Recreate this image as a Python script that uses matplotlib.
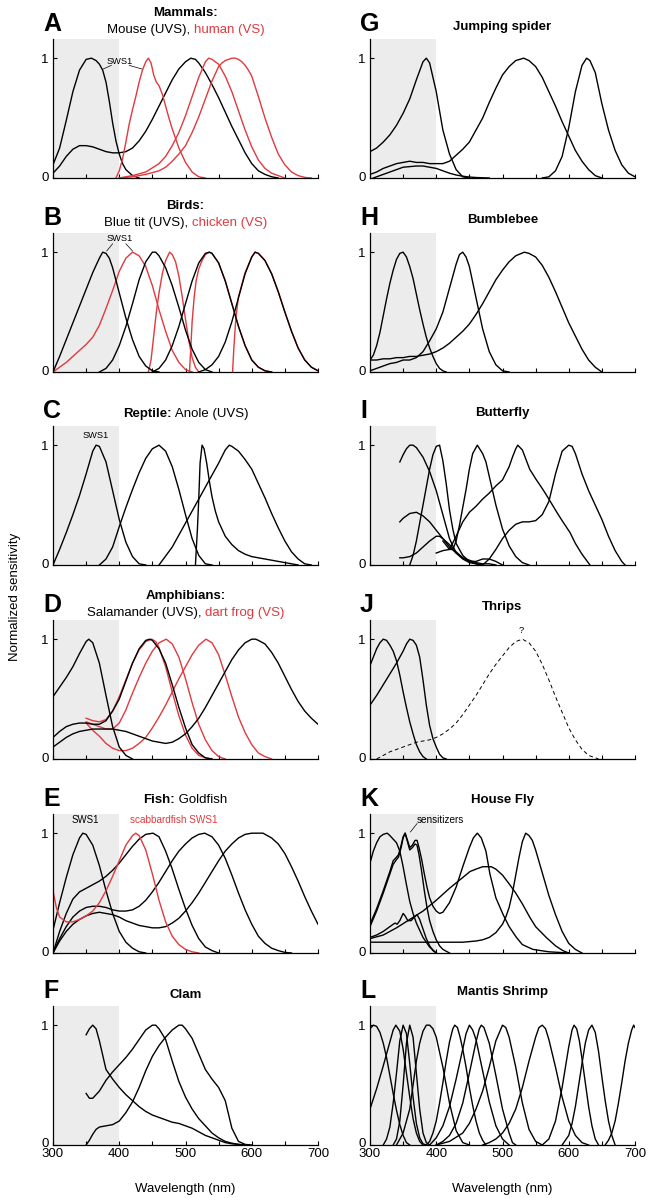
import numpy as np
import matplotlib.pyplot as plt
from matplotlib.transforms import ScaledTranslation

plt.rcParams['font.family'] = ['Liberation Sans', 'DejaVu Sans']

RED = '#e0393e'
GREY = '#ececec'

# ---------------- A: mouse (black) / human (red)
mouse_uv = [(300,.11),(310,.25),(320,.48),(330,.72),(340,.9),(350,.99),(358,1.0),(365,.98),(370,.95),(375,.9),
            (380,.8),(385,.64),(390,.46),(395,.31),(400,.2),(405,.12),(410,.07),(420,.02),(430,0)]
mouse_m = [(300,.04),(310,.1),(320,.18),(330,.24),(340,.27),(350,.27),(360,.26),(370,.24),(380,.22),(390,.21),
           (400,.21),(410,.22),(420,.25),(430,.31),(440,.39),(450,.49),(460,.6),(470,.71),(480,.82),(490,.91),
           (500,.97),(508,1.0),(515,.99),(520,.96),(530,.88),(540,.78),(550,.67),(560,.55),(570,.43),(580,.32),
           (590,.21),(600,.12),(610,.06),(620,.03),(630,.01),(640,0)]
human_s = [(395,0),(400,.06),(405,.16),(410,.3),(415,.45),(420,.57),(425,.68),(430,.8),(435,.9),(440,.97),
           (444,1.0),(448,.96),(452,.86),(456,.8),(460,.77),(465,.7),(470,.6),(475,.5),(480,.41),(490,.25),
           (500,.13),(510,.05),(520,.01),(530,0)]
human_m = [(400,0),(420,.02),(440,.05),(460,.12),(470,.18),(480,.27),(490,.38),(500,.52),(510,.68),(520,.84),
           (530,.97),(535,1.0),(540,.99),(550,.95),(560,.85),(570,.72),(580,.56),(590,.4),(600,.26),(610,.15),
           (620,.08),(630,.04),(640,.02),(650,0)]
human_l = [(400,0),(420,.01),(440,.03),(460,.06),(470,.09),(480,.14),(490,.2),(500,.27),(510,.38),(520,.51),
           (530,.66),(540,.81),(550,.93),(555,.96),(560,.98),(565,.99),(570,1.0),(575,1.0),(580,.99),(585,.97),
           (590,.94),(595,.9),(600,.85),(610,.68),(620,.5),(630,.34),(640,.2),(650,.11),(660,.05),(670,.02),
           (680,.005),(690,0)]

# ---------------- B: blue tit (black) / chicken (red)
tit_uv = [(300,0),(310,.13),(320,.27),(330,.41),(340,.55),(350,.69),(360,.83),(370,.95),(375,1.0),(380,.99),
          (385,.95),(390,.87),(400,.66),(410,.45),(420,.27),(430,.13),(440,.05),(450,.01),(460,0)]
chicken_vs = [(300,0),(310,.04),(320,.08),(330,.13),(340,.18),(350,.23),(360,.29),(370,.39),(380,.53),(390,.68),
              (400,.84),(410,.95),(420,1.0),(430,.97),(440,.88),(450,.72),(460,.52),(470,.34),(480,.18),
              (490,.08),(500,.02),(510,0)]
tit_sws2 = [(370,0),(380,.03),(390,.1),(400,.22),(410,.38),(420,.57),(430,.77),(440,.92),(450,1.0),(455,1.0),
            (460,.97),(470,.87),(480,.72),(490,.54),(500,.35),(510,.19),(520,.08),(530,.02),(540,0)]
chicken_sws2 = [(444,0),(448,.1),(452,.3),(456,.5),(460,.66),(465,.82),(470,.93),(476,1.0),(480,.98),(485,.92),
                (490,.8),(495,.63),(500,.44),(505,.26),(510,.12),(515,.04),(520,0)]
tit_mws = [(450,0),(460,.03),(470,.1),(480,.22),(490,.38),(500,.57),(510,.76),(520,.91),(530,.99),(536,1.0),
           (540,.99),(550,.91),(560,.76),(570,.57),(580,.38),(590,.22),(600,.1),(610,.04),(620,.01),(630,0)]
chicken_mws = [(506,0),(508,.2),(510,.42),(513,.62),(516,.76),(520,.86),(525,.93),(530,.98),(536,1.0),(540,.99),
               (550,.91),(560,.76),(570,.57),(580,.38),(590,.22),(600,.1),(610,.04),(620,.01),(630,0)]
tit_lws = [(520,0),(530,.02),(540,.06),(550,.13),(560,.25),(570,.42),(580,.62),(590,.82),(600,.96),(605,1.0),
           (610,.99),(620,.93),(630,.82),(640,.67),(650,.5),(660,.34),(670,.2),(680,.1),(690,.04),(700,.01)]
chicken_lws = [(571,0),(573,.2),(576,.45),(580,.63),(590,.83),(600,.96),(605,1.0),(610,.99),(620,.93),(630,.82),
               (640,.67),(650,.5),(660,.34),(670,.2),(680,.1),(690,.04),(700,.01)]

# ---------------- C: anole
anole_uv = [(300,0),(310,.13),(320,.27),(330,.42),(340,.58),(350,.76),(360,.95),(365,1.0),(370,.99),(380,.86),
            (390,.62),(400,.38),(410,.19),(420,.07),(430,.01),(440,0)]
anole_sws = [(370,0),(380,.05),(385,.1),(390,.15),(400,.32),(410,.48),(420,.63),(430,.77),(440,.89),(450,.97),
             (460,1.0),(470,.95),(480,.82),(490,.63),(500,.42),(510,.22),(520,.08),(530,.01),(540,0)]
anole_mws = [(515,0),(518,.3),(520,.55),(522,.85),(525,1.0),(528,.97),(532,.85),(536,.7),(540,.57),(545,.45),
             (550,.36),(560,.24),(570,.17),(580,.12),(590,.09),(600,.07),(620,.05),(640,.03),(660,.01),(670,0)]
anole_lws = [(460,0),(480,.15),(500,.35),(520,.55),(540,.75),(550,.85),(560,.96),(566,1.0),(570,.99),(580,.95),
             (590,.88),(600,.8),(610,.68),(620,.56),(630,.43),(640,.31),(650,.2),(660,.11),(670,.05),(680,.01),(690,0)]

# ---------------- D: salamander (black) / dart frog (red)
sal_uv = [(300,.52),(310,.6),(320,.68),(330,.77),(340,.88),(350,.98),(354,1.0),(360,.97),(370,.8),(380,.53),
          (390,.27),(400,.1),(410,.03),(420,0)]
sal_s = [(300,.18),(310,.23),(320,.27),(330,.29),(340,.3),(350,.3),(360,.29),(370,.29),(380,.32),(390,.4),
         (400,.5),(410,.65),(420,.8),(430,.92),(440,.99),(446,1.0),(450,.99),(460,.92),(470,.8),(480,.62),
         (490,.43),(500,.26),(510,.12),(520,.05),(530,.01),(540,0)]
sal_l = [(300,.1),(310,.14),(320,.18),(330,.21),(340,.23),(350,.24),(360,.25),(370,.25),(380,.25),(390,.25),
         (400,.24),(410,.23),(420,.21),(430,.19),(440,.17),(450,.15),(460,.14),(470,.13),(480,.14),(490,.17),
         (500,.21),(510,.27),(520,.34),(530,.43),(540,.53),(550,.63),(560,.73),(570,.83),(580,.91),(590,.97),
         (600,1.0),(606,1.0),(610,.99),(620,.96),(630,.89),(640,.8),(650,.69),(660,.58),(670,.48),(680,.4),
         (690,.34),(700,.29)]
frog_s = [(350,.34),(360,.32),(370,.31),(380,.33),(390,.4),(400,.52),(410,.66),(420,.8),(430,.91),(440,.98),
          (449,1.0),(455,.98),(460,.93),(470,.77),(480,.56),(490,.36),(500,.2),(510,.09),(520,.03),(530,.01),(540,0)]
frog_m = [(350,.31),(360,.29),(370,.27),(380,.25),(390,.25),(400,.3),(410,.41),(420,.55),(430,.68),(440,.8),
          (450,.9),(460,.97),(471,1.0),(480,.96),(490,.85),(500,.67),(510,.47),(520,.29),(530,.16),(540,.07),
          (550,.02),(560,0)]
frog_l = [(350,.3),(360,.24),(370,.19),(380,.13),(390,.09),(400,.07),(410,.07),(420,.09),(430,.13),(440,.18),
          (450,.26),(460,.35),(470,.45),(480,.56),(490,.67),(500,.77),(510,.87),(520,.95),(531,1.0),(540,.97),
          (550,.87),(560,.7),(570,.52),(580,.35),(590,.22),(600,.12),(610,.05),(620,.02),(630,0)]

# ---------------- E: goldfish (black) / scabbardfish SWS1 (red)
gold_uv = [(300,.19),(310,.42),(320,.63),(330,.82),(340,.96),(345,1.0),(350,.99),(360,.9),(370,.73),(380,.52),
           (390,.33),(400,.18),(410,.09),(420,.04),(430,.01),(440,0)]
gold_s = [(300,0),(310,.18),(320,.33),(330,.45),(340,.51),(350,.54),(360,.57),(370,.6),(380,.64),(390,.69),
          (400,.75),(410,.82),(420,.89),(430,.95),(440,.99),(451,1.0),(460,.97),(470,.85),(480,.7),(490,.53),
          (500,.37),(510,.23),(520,.12),(530,.05),(540,.02),(550,0)]
gold_m = [(300,0),(310,.12),(320,.22),(330,.3),(340,.35),(350,.38),(360,.39),(370,.39),(380,.38),(390,.36),
          (400,.35),(410,.35),(420,.36),(430,.39),(440,.44),(450,.51),(460,.59),(470,.68),(480,.77),(490,.85),
          (500,.91),(510,.96),(520,.99),(529,1.0),(540,.97),(550,.9),(560,.79),(570,.65),(580,.5),(590,.36),
          (600,.24),(610,.14),(620,.08),(630,.04),(640,.02),(650,.005),(660,0)]
gold_l = [(300,0),(310,.1),(320,.18),(330,.24),(340,.28),(350,.31),(360,.33),(370,.34),(380,.33),(390,.32),
          (400,.3),(410,.27),(420,.25),(430,.23),(440,.22),(450,.21),(460,.21),(470,.22),(480,.25),(490,.29),
          (500,.35),(510,.42),(520,.5),(530,.59),(540,.68),(550,.77),(560,.85),(570,.91),(580,.96),(590,.99),
          (600,1.0),(617,1.0),(630,.96),(640,.91),(650,.83),(660,.72),(670,.6),(680,.47),(690,.35),(700,.24)]
scabbard = [(300,.52),(305,.38),(310,.3),(320,.26),(330,.26),(340,.28),(350,.31),(360,.35),(370,.42),(380,.52),
            (390,.64),(400,.77),(410,.9),(420,.98),(425,1.0),(430,.98),(440,.86),(450,.66),(460,.44),(470,.26),
            (480,.14),(490,.07),(500,.03),(510,.01),(520,0)]

# ---------------- F: clam
clam_uv = [(350,.92),(355,.97),(360,1.0),(365,.97),(370,.87),(380,.63),(390,.55),(400,.48),(410,.42),(420,.37),
           (430,.32),(440,.28),(450,.25),(460,.23),(470,.21),(480,.19),(490,.18),(500,.16),(510,.14),(520,.11),
           (530,.08),(540,.06),(550,.04),(560,.02),(570,.01),(580,.005),(590,0)]
clam_blue = [(350,.43),(355,.39),(360,.39),(370,.45),(380,.54),(390,.61),(400,.67),(410,.73),(420,.8),(430,.88),
             (440,.96),(450,1.0),(455,1.0),(460,.97),(470,.88),(480,.7),(490,.53),(500,.4),(510,.3),(520,.22),
             (530,.16),(540,.1),(550,.06),(560,.03),(570,.015),(580,.005),(590,0)]
clam_green = [(350,0),(355,.04),(360,.09),(365,.13),(370,.15),(380,.16),(390,.17),(400,.2),(410,.27),(420,.36),
              (430,.48),(440,.62),(450,.74),(460,.83),(470,.9),(480,.96),(490,1.0),(495,1.0),(500,.97),(510,.89),
              (520,.76),(530,.63),(540,.55),(550,.48),(560,.37),(570,.14),(580,.03),(590,.005),(600,0)]

# ---------------- G: jumping spider
spider_uv = [(300,.22),(310,.25),(320,.3),(330,.36),(340,.44),(350,.54),(360,.66),(370,.82),(380,.97),(385,1.0),
             (390,.96),(400,.72),(410,.4),(420,.2),(430,.07),(440,.01),(450,0)]
spider_g = [(300,.03),(310,.05),(320,.08),(330,.1),(340,.12),(350,.13),(360,.14),(370,.13),(380,.13),(390,.12),
            (400,.12),(410,.12),(420,.14),(430,.19),(440,.24),(450,.3),(460,.4),(470,.5),(480,.63),(490,.75),
            (500,.86),(510,.93),(520,.98),(532,1.0),(540,.98),(550,.93),(560,.84),(570,.72),(580,.6),(590,.47),
            (600,.35),(610,.23),(620,.14),(630,.07),(640,.02),(650,0)]
spider_low = [(305,0),(310,.01),(320,.03),(330,.05),(340,.07),(350,.09),(360,.095),(370,.1),(380,.1),(390,.09),
              (400,.08),(410,.06),(420,.04),(430,.025),(440,.015),(450,.008),(460,.004),(470,.002),(480,0)]
spider_red = [(560,0),(570,.01),(580,.06),(590,.18),(600,.42),(610,.72),(620,.94),(627,1.0),(632,.98),(640,.88),
              (650,.62),(660,.4),(670,.23),(680,.11),(690,.04),(700,.01)]

# ---------------- H: bumblebee
bee_uv = [(300,.1),(305,.14),(310,.22),(315,.33),(320,.47),(325,.61),(330,.74),(335,.85),(340,.94),(345,.99),
          (350,1.0),(355,.96),(360,.88),(365,.78),(370,.65),(375,.52),(380,.4),(385,.29),(390,.2),(395,.13),
          (400,.07),(405,.03),(410,.01),(415,0)]
bee_blue = [(300,.01),(310,.03),(320,.05),(330,.07),(340,.08),(350,.1),(360,.1),(370,.12),(380,.17),(390,.26),
            (400,.36),(410,.5),(420,.7),(430,.9),(435,.98),(440,1.0),(445,.96),(450,.88),(460,.62),(470,.36),
            (480,.17),(490,.06),(500,.01),(510,0)]
bee_green = [(300,.1),(310,.1),(320,.11),(330,.11),(340,.12),(350,.12),(360,.13),(370,.13),(380,.14),(390,.15),
             (400,.17),(410,.2),(420,.24),(430,.29),(440,.34),(450,.4),(460,.48),(470,.57),(480,.67),(490,.77),
             (500,.85),(510,.92),(520,.97),(533,1.0),(540,.99),(550,.96),(560,.89),(570,.79),(580,.67),(590,.54),
             (600,.41),(610,.3),(620,.19),(630,.1),(640,.04),(650,0)]

# ---------------- I: butterfly
bf_uv = [(345,.86),(350,.92),(355,.97),(360,1.0),(365,1.0),(370,.98),(380,.9),(390,.78),(400,.62),(410,.42),
         (420,.22),(430,.1),(440,.05),(450,.02),(460,.01),(470,0)]
bf_v = [(345,.36),(350,.39),(360,.43),(370,.44),(380,.41),(390,.36),(400,.29),(410,.22),(420,.15),(430,.1),
        (440,.06),(450,.04),(460,.02),(470,.01),(480,.01),(490,0)]
bf_low = [(345,.06),(350,.06),(360,.07),(370,.1),(380,.15),(390,.2),(400,.24),(405,.24),(410,.22),(420,.17),
          (430,.11),(440,.06),(450,.03),(460,.03),(470,.05),(480,.05),(490,.03),(500,0)]
bf_blue = [(360,0),(365,.08),(370,.2),(375,.35),(380,.5),(385,.65),(390,.8),(395,.92),(400,.99),(405,1.0),
           (410,.87),(415,.68),(420,.46),(425,.3),(430,.18),(440,.08),(450,.03),(460,.01),(470,0)]
bf_462 = [(410,.2),(420,.13),(425,.13),(430,.2),(435,.33),(440,.48),(445,.63),(450,.8),(455,.93),(462,1.0),
          (470,.93),(475,.86),(480,.74),(490,.5),(500,.3),(510,.16),(520,.07),(530,.02),(540,0)]
bf_green = [(400,.1),(410,.12),(420,.13),(430,.24),(440,.36),(450,.44),(460,.49),(470,.55),(480,.6),(490,.66),
            (500,.71),(510,.82),(515,.9),(520,.97),(523,1.0),(530,.96),(541,.8),(550,.72),(561,.63),(570,.55),
            (582,.44),(590,.37),(602,.27),(610,.18),(620,.09),(632,0)]
bf_red = [(470,0),(480,.05),(490,.13),(500,.22),(510,.29),(520,.34),(530,.36),(540,.36),(550,.37),(560,.42),
          (570,.53),(580,.76),(590,.95),(600,1.0),(605,.99),(610,.93),(620,.76),(630,.62),(640,.5),(650,.38),
          (660,.24),(670,.12),(680,.03),(685,0)]

# ---------------- J: thrips
thrips_uv1 = [(300,.78),(305,.85),(310,.92),(315,.97),(320,1.0),(325,.99),(330,.95),(335,.9),(340,.82),(345,.7),
              (350,.56),(355,.43),(360,.31),(365,.21),(370,.12),(375,.06),(380,.02),(385,0)]
thrips_uv2 = [(300,.45),(310,.53),(320,.62),(330,.71),(340,.8),(350,.9),(355,.96),(360,1.0),(365,.99),(370,.95),
              (375,.85),(380,.66),(385,.45),(390,.28),(395,.17),(400,.1),(405,.04),(410,.01),(415,0)]
thrips_green = [(310,0),(320,.03),(330,.06),(340,.08),(350,.1),(360,.12),(370,.14),(380,.15),(390,.16),(400,.18),
                (410,.21),(420,.25),(430,.3),(440,.37),(450,.45),(460,.53),(470,.62),(480,.71),(490,.79),(500,.86),
                (510,.93),(520,.98),(530,1.0),(540,.97),(550,.9),(560,.79),(570,.66),(580,.52),(590,.39),(600,.26),
                (610,.16),(620,.08),(630,.03),(640,.01),(645,0)]

# ---------------- K: house fly
fly_r7p = [(300,.75),(305,.85),(310,.92),(315,.97),(320,.99),(326,1.0),(330,.98),(335,.95),(340,.92),(345,.85),
           (350,.72),(355,.57),(360,.43),(365,.33),(370,.25),(375,.19),(380,.13),(390,.05),(400,0)]
fly_sens_a = [(300,.24),(310,.37),(320,.52),(330,.68),(335,.77),(340,.8),(343,.82),(347,.9),(350,.97),(353,1.0),
              (356,.95),(360,.88),(364,.9),(368,.94),(371,.94),(374,.88),(378,.78),(382,.66),(386,.55),(390,.46),
              (395,.39),(400,.35),(405,.33),(410,.34),(420,.42),(430,.55),(440,.72),(450,.88),(456,.96),(462,1.0),
              (468,.96),(475,.85),(481,.66),(490,.46),(501,.32),(510,.22),(521,.13),(530,.07),(546,.03),(570,.01),
              (600,0)]
fly_sens_b = [(300,.22),(310,.35),(320,.5),(330,.66),(335,.74),(340,.78),(343,.8),(347,.88),(350,.96),(353,1.0),
              (356,.94),(360,.86),(364,.88),(368,.91),(371,.9),(374,.82),(378,.68),(382,.52),(386,.38),(390,.27),
              (395,.18),(400,.11),(405,.06),(410,.03),(420,0)]
fly_low = [(300,.13),(310,.15),(320,.18),(330,.22),(335,.24),(338,.25),(341,.24),(345,.27),(350,.33),(353,.31),
           (357,.27),(362,.27),(367,.3),(371,.32),(375,.28),(380,.2),(385,.12),(390,.06),(395,.02),(400,0)]
fly_broad = [(300,.12),(320,.15),(340,.21),(360,.28),(380,.35),(400,.44),(420,.54),(440,.63),(451,.68),(460,.7),
             (470,.72),(483,.72),(490,.7),(500,.65),(511,.57),(520,.5),(530,.41),(541,.3),(550,.22),(566,.13),
             (580,.06),(591,.02),(600,0)]
fly_r8y = [(300,.09),(340,.09),(380,.09),(420,.09),(440,.09),(460,.1),(470,.11),(480,.13),(490,.17),(500,.24),
           (505,.3),(510,.38),(515,.5),(520,.65),(525,.8),(530,.93),(535,1.0),(540,.98),(545,.94),(550,.86),
           (560,.67),(570,.48),(580,.32),(590,.18),(600,.08),(610,.03),(620,0)]

# ---------------- L: mantis shrimp
ms_308 = [(300,.97),(305,1.0),(310,.99),(315,.94),(320,.85),(325,.73),(330,.58),(335,.43),(340,.29),(345,.17),
          (350,.08),(355,.02),(360,0)]
ms_339 = [(300,.3),(310,.47),(320,.66),(330,.86),(335,.96),(339,1.0),(345,.95),(350,.8),(355,.6),(360,.4),
          (365,.22),(370,.1),(375,.03),(380,0)]
ms_351 = [(320,0),(325,.05),(330,.15),(335,.35),(340,.6),(345,.87),(350,1.0),(355,.93),(360,.68),(365,.4),
          (370,.18),(375,.06),(380,.01),(385,0)]
ms_361 = [(335,0),(340,.05),(345,.2),(350,.5),(355,.85),(360,1.0),(365,.9),(370,.6),(375,.3),(380,.1),(385,.02),(390,0)]
ms_389 = [(340,0),(350,.1),(360,.3),(365,.5),(370,.7),(375,.85),(380,.95),(385,1.0),(390,1.0),(395,.97),(400,.9),
          (410,.65),(420,.35),(430,.12),(440,.02),(450,0)]
ms_428 = [(385,0),(390,.03),(395,.1),(400,.2),(405,.35),(410,.52),(415,.7),(420,.86),(425,.97),(428,1.0),(432,.98),
          (436,.9),(440,.8),(445,.65),(450,.48),(455,.33),(460,.2),(465,.1),(470,.04),(475,0)]
ms_450 = [(390,0),(400,.06),(410,.16),(420,.32),(430,.55),(440,.8),(445,.93),(450,1.0),(455,.96),(460,.88),(470,.62),
          (480,.36),(490,.16),(500,.05),(510,0)]
ms_468 = [(400,0),(410,.03),(420,.08),(430,.18),(440,.35),(450,.6),(460,.86),(465,.97),(468,1.0),(472,.98),(480,.85),
          (490,.58),(500,.3),(510,.1),(515,.02),(520,0)]
ms_500 = [(400,0),(420,.03),(440,.1),(450,.18),(460,.3),(470,.45),(480,.65),(490,.87),(500,1.0),(505,.98),(510,.9),
          (520,.65),(530,.35),(540,.13),(550,.03),(560,0)]
ms_559 = [(470,0),(480,.02),(490,.05),(500,.1),(510,.18),(520,.3),(530,.48),(540,.7),(550,.9),(555,.98),(560,1.0),
          (565,.97),(570,.88),(580,.65),(590,.4),(600,.2),(610,.08),(620,.02),(630,0)]
ms_607 = [(560,0),(570,.05),(580,.2),(590,.48),(600,.82),(605,.96),(608,1.0),(612,.97),(616,.87),(620,.72),(625,.52),
          (630,.32),(635,.16),(640,.05),(645,0)]
ms_635 = [(590,0),(600,.08),(605,.18),(610,.32),(615,.5),(620,.68),(625,.85),(630,.96),(635,1.0),(640,.94),(645,.78),
          (650,.57),(655,.37),(660,.2),(665,.08),(670,0)]
ms_698 = [(655,0),(660,.04),(665,.1),(670,.2),(675,.35),(680,.52),(685,.7),(690,.85),(695,.96),(698,1.0),(700,.98)]

K = 'k'
panels = [
    dict(letter='A', col=0, row=0, title=[[('Mammals:', K, 'bold')],
                                        [('Mouse (UVS), ', K, 'normal'), ('human (VS)', RED, 'normal')]],
         curves=[(mouse_uv, K), (mouse_m, K), (human_s, RED), (human_m, RED), (human_l, RED)]),
    dict(letter='B', col=0, row=1, title=[[('Birds:', K, 'bold')],
                                        [('Blue tit (UVS), ', K, 'normal'), ('chicken (VS)', RED, 'normal')]],
         curves=[(chicken_vs, RED), (chicken_sws2, RED), (chicken_mws, RED), (chicken_lws, RED),
                 (tit_uv, K), (tit_sws2, K), (tit_mws, K), (tit_lws, K)]),
    dict(letter='C', col=0, row=2, title=[[('Reptile:', K, 'bold'), (' Anole (UVS)', K, 'normal')]],
         curves=[(anole_uv, K), (anole_sws, K), (anole_mws, K), (anole_lws, K)]),
    dict(letter='D', col=0, row=3, title=[[('Amphibians:', K, 'bold')],
                                        [('Salamander (UVS), ', K, 'normal'), ('dart frog (VS)', RED, 'normal')]],
         curves=[(frog_s, RED), (frog_m, RED), (frog_l, RED), (sal_uv, K), (sal_s, K), (sal_l, K)]),
    dict(letter='E', col=0, row=4, title=[[('Fish:', K, 'bold'), (' Goldfish', K, 'normal')]],
         curves=[(gold_uv, K), (gold_s, K), (gold_m, K), (gold_l, K), (scabbard, RED)]),
    dict(letter='F', col=0, row=5, title=[[('Clam', K, 'bold')]],
         curves=[(clam_uv, K), (clam_blue, K), (clam_green, K)]),
    dict(letter='G', col=1, row=0, title=[[('Jumping spider', K, 'bold')]],
         curves=[(spider_uv, K), (spider_g, K), (spider_low, K), (spider_red, K)]),
    dict(letter='H', col=1, row=1, title=[[('Bumblebee', K, 'bold')]],
         curves=[(bee_uv, K), (bee_blue, K), (bee_green, K)]),
    dict(letter='I', col=1, row=2, title=[[('Butterfly', K, 'bold')]],
         curves=[(bf_uv, K), (bf_v, K), (bf_low, K), (bf_blue, K), (bf_462, K), (bf_green, K), (bf_red, K)]),
    dict(letter='J', col=1, row=3, title=[[('Thrips', K, 'bold')]],
         curves=[(thrips_uv1, K), (thrips_uv2, K)]),
    dict(letter='K', col=1, row=4, title=[[('House Fly', K, 'bold')]],
         curves=[(fly_r7p, K), (fly_sens_a, K), (fly_sens_b, K), (fly_low, K), (fly_broad, K), (fly_r8y, K)]),
    dict(letter='L', col=1, row=5, title=[[('Mantis Shrimp', K, 'bold')]],
         curves=[(c, K) for c in (ms_308, ms_339, ms_351, ms_361, ms_389, ms_428, ms_450, ms_468,
                                  ms_500, ms_559, ms_607, ms_635, ms_698)]),
]

W, H = 649, 1198
fig = plt.figure(figsize=(W / 100, H / 100), dpi=100)
renderer = fig.canvas.get_renderer()

col_left = [53, 370]
col_right = [318, 635]
row_bottom = [178, 372, 565, 759, 953, 1145]
title_y = {'A': (13, 30), 'B': (206, 223), 'C': (414,), 'D': (596, 613), 'E': (800,), 'F': (995,),
           'G': (27,), 'H': (220,), 'I': (413,), 'J': (607,), 'K': (800,), 'L': (992,)}


def rich_line(xc, y, parts, size=9.5):
    """draw a line of text made of coloured/bold pieces, centred at pixel xc"""
    arts, widths = [], []
    for s, c, w in parts:
        t = fig.text(0, 1 - y / H, s, color=c, fontweight=w, fontsize=size, va='center', ha='left')
        widths.append(t.get_window_extent(renderer).width)
        arts.append(t)
    x = xc - sum(widths) / 2
    for t, wd in zip(arts, widths):
        t.set_x(x / W)
        x += wd


for p in panels:
    l, r = col_left[p['col']], col_right[p['col']]
    b = row_bottom[p['row']]
    top = b - 139
    ax = fig.add_axes([l / W, 1 - b / H, (r - l) / W, 139 / H])
    ax.axvspan(300, 400, color=GREY, lw=0, zorder=0)
    for data, color in p['curves']:
        arr = np.array(data, dtype=float)
        ax.plot(arr[:, 0], arr[:, 1], color=color, lw=1.0, solid_joinstyle='round')
    ax.set_xlim(300, 700)
    ax.set_ylim(0, 1.16)
    for s in ('top', 'right'):
        ax.spines[s].set_visible(False)
    for s in ('left', 'bottom'):
        ax.spines[s].set_linewidth(0.9)
    ax.set_yticks([0, 1])
    ax.set_yticklabels(['0', '1'], fontsize=9.5)
    ax.set_xticks(np.arange(300, 701, 50))
    if p['row'] == 5:
        ax.set_xticklabels(['300', '', '400', '', '500', '', '600', '', '700'], fontsize=9.5)
    else:
        ax.set_xticklabels([])
    ax.tick_params(direction='in', length=3, width=0.8, pad=2)
    ax.tick_params(axis='y', pad=3)
    # the reference sets the "0" a touch above the axis line (more so on the bottom row)
    dy = 1.8 if p['row'] == 5 else 1.0
    for lab in ax.get_yticklabels()[:1]:
        lab.set_transform(lab.get_transform() + ScaledTranslation(0, dy / 72, fig.dpi_scale_trans))

    xc = (l + r) / 2
    for line, yy in zip(p['title'], title_y[p['letter']]):
        rich_line(xc, yy, line)
    fig.text((l - 10) / W, 1 - (top - 15) / H, p['letter'], fontsize=18, fontweight='bold',
             ha='left', va='center')

    if p['letter'] == 'A':
        ax.text(401, .97, 'SWS1', fontsize=6.7, ha='center', va='center')
        ax.plot([388, 376], [.94, .91], color=K, lw=0.5)
        ax.plot([415, 434], [.94, .91], color=K, lw=0.5)
    if p['letter'] == 'B':
        ax.text(400, 1.11, 'SWS1', fontsize=6.7, ha='center', va='center')
        ax.plot([390, 381], [1.07, 1.01], color=K, lw=0.5)
        ax.plot([410, 420], [1.07, 1.01], color=K, lw=0.5)
    if p['letter'] == 'C':
        ax.text(365, 1.08, 'SWS1', fontsize=6.7, ha='center', va='center')
    if p['letter'] == 'E':
        ax.text(349, 1.11, 'SWS1', fontsize=6.9, ha='center', va='center')
        ax.text(483, 1.11, 'scabbardfish SWS1', fontsize=7.2, ha='center', va='center', color=RED)
    if p['letter'] == 'J':
        arr = np.array(thrips_green, dtype=float)
        ax.plot(arr[:, 0], arr[:, 1], color=K, lw=0.7, dashes=(4, 3))
        ax.text(529, 1.07, '?', fontsize=6.7, ha='center', va='center')
    if p['letter'] == 'K':
        ax.text(370, 1.11, 'sensitizers', fontsize=7.2, ha='left', va='center')
        ax.plot([371, 361], [1.08, 1.01], color=K, lw=0.5)

fig.text(15 / W, 1 - 597 / H, 'Normalized sensitivity', rotation=90, fontsize=9.5, ha='center', va='center')
fig.text(185 / W, 1 - 1189 / H, 'Wavelength (nm)', fontsize=9.5, ha='center', va='center')
fig.text(502 / W, 1 - 1189 / H, 'Wavelength (nm)', fontsize=9.5, ha='center', va='center')

fig.savefig('out.png', dpi=100)
